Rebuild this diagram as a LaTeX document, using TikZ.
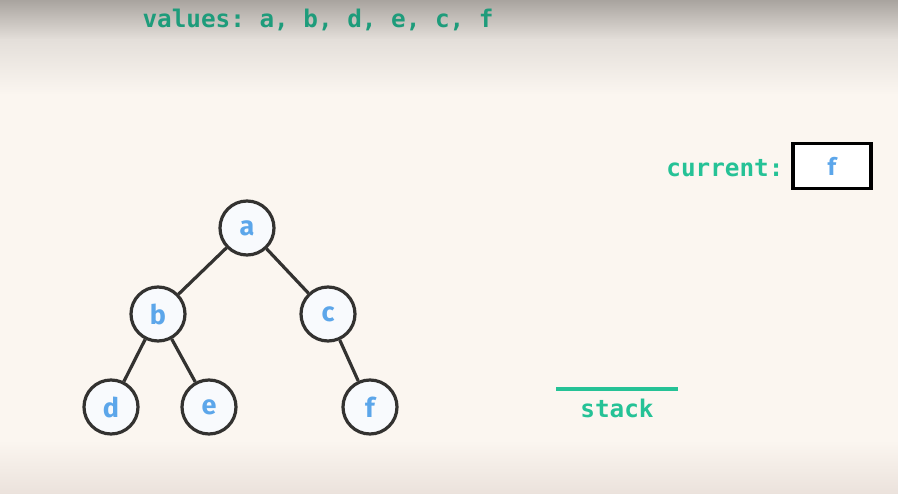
\documentclass[tikz,border=0pt]{standalone}
\usepackage{fontspec}
\setmainfont{Fira Sans}
\setmonofont{DejaVu Sans Mono}
\usetikzlibrary{positioning}

\definecolor{paper}{HTML}{FBF6F0}
\definecolor{shade}{HTML}{A9A49F}
\definecolor{midshade}{HTML}{E4DFDA}
\definecolor{floor}{HTML}{EBE2DC}
\definecolor{darkteal}{HTML}{1E9C7B}
\definecolor{teal}{HTML}{25C296}
\definecolor{letter}{HTML}{5CA6EA}
\definecolor{rim}{HTML}{333230}
\definecolor{bubble}{HTML}{F8FAFD}

\tikzset{
  treenode/.style={circle, draw=rim, line width=3.2pt, fill=bubble, minimum size=54pt, inner sep=0pt,
    text=letter, font=\fontsize{27}{27}\selectfont\bfseries},
  treeedge/.style={draw=rim, line width=3.2pt},
  label text/.style={font=\ttfamily\bfseries\fontsize{24.3}{24.3}\selectfont}
}

\begin{document}
\begin{tikzpicture}[x=1pt, y=-1pt]

% Background with shading at top and bottom
\useasboundingbox (0,0) rectangle (898,494);
\fill[paper] (0,0) rectangle (898,494);
\shade[top color=shade, bottom color=midshade] (0,0) rectangle (898,40);
\shade[top color=midshade, bottom color=paper] (0,40) rectangle (898,95);
\shade[top color=paper, bottom color=floor] (0,440) rectangle (898,494);

% Values visited so far
\node[label text, text=darkteal, anchor=west] (values) at (139,20) {values: a, b, d, e, c, f};

% Current node box
\node[label text, text=teal, anchor=east] (current) at (787,168) {current:};
\node[draw=black, line width=3.5pt, fill=white, minimum width=78pt, minimum height=45pt,
  text=letter, font=\fontsize{24}{24}\selectfont\bfseries] (currentbox) at (832,166) {f};

% Empty stack
\coordinate (stackL) at (556,389);
\coordinate (stackR) at (678,389);
\draw[teal, line width=4pt] (stackL) -- (stackR);
\node[label text, text=teal] (stack) at (617,408) {stack};

% Tree nodes
\node[treenode] (a) at (247,228) {a};
\node[treenode] (b) at (158,314) {b};
\node[treenode] (c) at (328,314) {c};
\node[treenode] (d) at (111,407) {d};
\node[treenode] (e) at (209,407) {e};
\node[treenode] (f) at (370,407) {f};

% Tree edges
\draw[treeedge] (a) -- (b);
\draw[treeedge] (a) -- (c);
\draw[treeedge] (b) -- (d);
\draw[treeedge] (b) -- (e);
\draw[treeedge] (c) -- (f);

\end{tikzpicture}
\end{document}
